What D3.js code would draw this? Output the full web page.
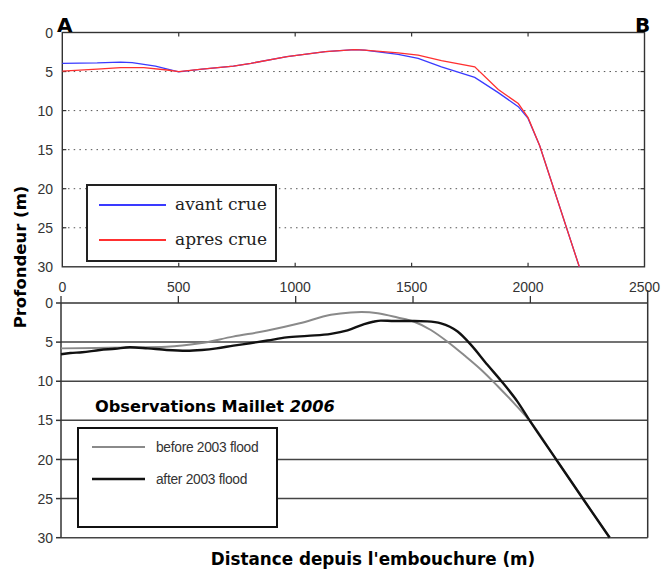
<!DOCTYPE html>
<html><head><meta charset="utf-8">
<script src="https://cdn.jsdelivr.net/npm/d3@7"></script>
<style>body{margin:0;background:#fff}svg{display:block}</style>
</head><body>
<svg id="c" width="662" height="570"></svg>
<script>
// ---- data ----
const xTicks = [0, 500, 1000, 1500, 2000, 2500];
const yTicks = [0, 5, 10, 15, 20, 25, 30];
const gridDepths = [5, 10, 15, 20, 25];

// top panel (modelled)
const avantCrueX = [0, 150, 250, 300, 400, 500, 600, 735, 810, 965, 1130, 1255, 1298, 1442, 1528, 1628, 1771, 1872, 1958, 2000, 2050, 2220];
const avantCrueY = [3.95, 3.9, 3.8, 3.85, 4.3, 5.05, 4.7, 4.3, 3.95, 3.1, 2.45, 2.2, 2.25, 2.8, 3.3, 4.4, 5.75, 7.7, 9.5, 11.0, 14.5, 30];
const apresCrueX = [0, 150, 250, 350, 450, 500, 600, 735, 810, 965, 1130, 1255, 1298, 1442, 1528, 1628, 1771, 1872, 1958, 2000, 2050, 2220];
const apresCrueY = [4.95, 4.7, 4.5, 4.5, 4.8, 5.0, 4.7, 4.3, 3.95, 3.1, 2.45, 2.2, 2.25, 2.6, 2.9, 3.6, 4.4, 7.3, 9.1, 10.9, 14.5, 30];

// bottom panel (observations)
const beforeX = [0, 150, 300, 450, 592, 733, 875, 1017, 1150, 1235, 1280, 1350, 1434, 1505, 1576, 1647, 1717, 1789, 1860, 1930, 2001, 2110, 2235, 2338];
const beforeY = [5.8, 5.75, 5.7, 5.6, 5.15, 4.3, 3.55, 2.6, 1.5, 1.2, 1.15, 1.3, 1.85, 2.4, 3.45, 4.95, 6.65, 8.5, 10.6, 12.8, 15.2, 20.0, 25.5, 30];
const afterX = [0, 40, 90, 166, 230, 294, 370, 450, 535, 600, 663, 735, 805, 880, 961, 1050, 1150, 1221, 1292, 1330, 1363, 1420, 1505, 1560, 1619, 1690, 1747, 1817, 1874, 1945, 2001, 2110, 2235, 2338];
const afterY = [6.55, 6.4, 6.3, 6.0, 5.85, 5.65, 5.8, 6.0, 6.1, 6.0, 5.8, 5.45, 5.15, 4.8, 4.4, 4.2, 3.95, 3.5, 2.7, 2.4, 2.25, 2.3, 2.3, 2.35, 2.6, 3.65, 5.35, 7.9, 9.9, 12.6, 15.2, 20.0, 25.5, 30];

const topLegend = ["avant crue", "apres crue"];
const botLegend = ["before 2003 flood", "after 2003 flood"];

// ---- drawing ----
const svg = d3.select("#c");
const xT = d3.scaleLinear([0, 2500], [62.3, 644.5]);
const yT = d3.scaleLinear([0, 30], [32.5, 266.8]);
const xB = d3.scaleLinear([0, 2500], [61, 647.7]);
const yB = d3.scaleLinear([0, 30], [303, 537.7]);
const sans = "Liberation Sans, Arial, sans-serif";

// --- top panel ---
const gT = svg.append("g");
gT.selectAll("line.grid").data(gridDepths).join("line")
  .attr("x1", xT(0)).attr("x2", xT(2500)).attr("y1", d => yT(d)).attr("y2", d => yT(d))
  .attr("stroke", "#555").attr("stroke-width", 1).attr("stroke-dasharray", "1.5,4.2");
gT.selectAll("line.tt").data(xTicks.slice(1, 5)).join("line")
  .attr("x1", d => xT(d)).attr("x2", d => xT(d)).attr("y1", yT(0)).attr("y2", yT(0) + 4)
  .attr("stroke", "#333").attr("stroke-width", 1.2);
gT.selectAll("line.tb").data(xTicks.slice(1, 5)).join("line")
  .attr("x1", d => xT(d)).attr("x2", d => xT(d)).attr("y1", yT(30)).attr("y2", yT(30) - 4)
  .attr("stroke", "#333").attr("stroke-width", 1.2);
gT.selectAll("line.tl").data(gridDepths).join("line")
  .attr("x1", xT(0)).attr("x2", xT(0) + 4).attr("y1", d => yT(d)).attr("y2", d => yT(d))
  .attr("stroke", "#333").attr("stroke-width", 1.2);
gT.selectAll("line.tr").data(gridDepths).join("line")
  .attr("x1", xT(2500)).attr("x2", xT(2500) - 4).attr("y1", d => yT(d)).attr("y2", d => yT(d))
  .attr("stroke", "#333").attr("stroke-width", 1.2);
gT.append("rect").attr("x", xT(0)).attr("y", yT(0)).attr("width", xT(2500) - xT(0)).attr("height", yT(30) - yT(0))
  .attr("fill", "none").attr("stroke", "#333").attr("stroke-width", 1.4);
gT.selectAll("text.yl").data(yTicks).join("text")
  .attr("x", 53).attr("y", d => yT(d)).attr("dy", "0.36em").attr("text-anchor", "end")
  .attr("font-family", sans).attr("font-size", 14).attr("fill", "#333").text(d => d);

const lineT = d3.line().x(d => xT(d[0])).y(d => yT(d[1]));
gT.append("path").datum(avantCrueX.map((x, i) => [x, avantCrueY[i]]))
  .attr("d", lineT).attr("fill", "none").attr("stroke", "#3a3aff").attr("stroke-width", 1.3);
gT.append("path").datum(apresCrueX.map((x, i) => [x, apresCrueY[i]]))
  .attr("d", lineT).attr("fill", "none").attr("stroke", "#ff3030").attr("stroke-width", 1.3);

// top legend
gT.append("rect").attr("x", 87).attr("y", 185).attr("width", 189).attr("height", 76)
  .attr("fill", "#fff").attr("stroke", "#222").attr("stroke-width", 2);
const topCols = ["#3a3aff", "#ff3030"];
topLegend.forEach((t, i) => {
  const y = 205 + i * 35;
  gT.append("line").attr("x1", 99).attr("x2", 166).attr("y1", y).attr("y2", y)
    .attr("stroke", topCols[i]).attr("stroke-width", 2.2);
  gT.append("text").attr("x", 175).attr("y", y).attr("dy", "0.3em")
    .attr("font-family", "DejaVu Serif, serif").attr("font-size", 17).attr("fill", "#222").text(t);
});

// x tick labels between panels
svg.selectAll("text.xl").data(xTicks).join("text")
  .attr("x", d => xT(d)).attr("y", 287).attr("dy", "0.36em").attr("text-anchor", "middle")
  .attr("font-family", sans).attr("font-size", 14).attr("fill", "#333").text(d => d);

// corner letters
svg.append("text").attr("x", 57).attr("y", 32).attr("font-family", "DejaVu Sans, sans-serif")
  .attr("font-weight", "bold").attr("font-size", 20).attr("fill", "#000").text("A");
svg.append("text").attr("x", 635).attr("y", 32).attr("font-family", "DejaVu Sans, sans-serif")
  .attr("font-weight", "bold").attr("font-size", 20).attr("fill", "#000").text("B");

// --- bottom panel ---
const gB = svg.append("g");
gB.selectAll("line.grid").data(gridDepths).join("line")
  .attr("x1", xB(0)).attr("x2", xB(2500)).attr("y1", d => yB(d)).attr("y2", d => yB(d))
  .attr("stroke", "#444").attr("stroke-width", 1.5);
gB.append("line").attr("x1", xB(0)).attr("x2", xB(2500)).attr("y1", yB(0)).attr("y2", yB(0))
  .attr("stroke", "#333").attr("stroke-width", 1.5);
gB.append("line").attr("x1", xB(0)).attr("x2", xB(2500)).attr("y1", yB(30)).attr("y2", yB(30))
  .attr("stroke", "#444").attr("stroke-width", 1.5);
gB.append("line").attr("x1", xB(0)).attr("x2", xB(0)).attr("y1", yB(0)).attr("y2", yB(30))
  .attr("stroke", "#333").attr("stroke-width", 1.5);
gB.append("line").attr("x1", xB(2500)).attr("x2", xB(2500)).attr("y1", 290).attr("y2", yB(30))
  .attr("stroke", "#333").attr("stroke-width", 1.5);
gB.selectAll("line.tl").data(yTicks).join("line")
  .attr("x1", xB(0) - 5).attr("x2", xB(0)).attr("y1", d => yB(d)).attr("y2", d => yB(d))
  .attr("stroke", "#333").attr("stroke-width", 1.5);
gB.selectAll("line.tt").data(xTicks.slice(0, 5)).join("line")
  .attr("x1", d => xB(d)).attr("x2", d => xB(d)).attr("y1", yB(0)).attr("y2", yB(0) - 7)
  .attr("stroke", "#333").attr("stroke-width", 1.3);
gB.selectAll("text.yl").data(yTicks).join("text")
  .attr("x", 53).attr("y", d => yB(d)).attr("dy", "0.36em").attr("text-anchor", "end")
  .attr("font-family", sans).attr("font-size", 14).attr("fill", "#333").text(d => d);

const lineB = d3.line().x(d => xB(d[0])).y(d => yB(d[1])).curve(d3.curveMonotoneX);
gB.append("path").datum(beforeX.map((x, i) => [x, beforeY[i]]))
  .attr("d", lineB).attr("fill", "none").attr("stroke", "#8a8a8a").attr("stroke-width", 2);
gB.append("path").datum(afterX.map((x, i) => [x, afterY[i]]))
  .attr("d", lineB).attr("fill", "none").attr("stroke", "#111").attr("stroke-width", 2.4);

// observations label
const obs = svg.append("text").attr("x", 95).attr("y", 412).attr("font-family", "DejaVu Sans, sans-serif")
  .attr("font-weight", "bold").attr("font-size", 16.2).attr("fill", "#000");
obs.append("tspan").text("Observations Maillet ");
obs.append("tspan").attr("font-style", "italic").text("2006");

// bottom legend
gB.append("rect").attr("x", 78).attr("y", 428).attr("width", 199).attr("height", 99)
  .attr("fill", "#fff").attr("stroke", "#111").attr("stroke-width", 2);
const botCols = ["#8a8a8a", "#111"];
const botW = [2, 2.6];
botLegend.forEach((t, i) => {
  const y = 447 + i * 32;
  gB.append("line").attr("x1", 92).attr("x2", 145).attr("y1", y).attr("y2", y)
    .attr("stroke", botCols[i]).attr("stroke-width", botW[i]);
  gB.append("text").attr("x", 156).attr("y", y).attr("dy", "0.35em")
    .attr("font-family", sans).attr("font-size", 13.8).attr("letter-spacing", -0.3).attr("fill", "#333").text(t);
});

// axis titles
svg.append("text").attr("transform", "translate(26,257) rotate(-90)").attr("text-anchor", "middle")
  .attr("font-family", "DejaVu Sans, sans-serif").attr("font-weight", "bold").attr("font-size", 16.5)
  .attr("fill", "#000").text("Profondeur (m)");
svg.append("text").attr("x", 373).attr("y", 565).attr("text-anchor", "middle")
  .attr("font-family", "DejaVu Sans, sans-serif").attr("font-weight", "bold").attr("font-size", 16.8)
  .attr("fill", "#000").text("Distance depuis l'embouchure (m)");
</script>
</body></html>
